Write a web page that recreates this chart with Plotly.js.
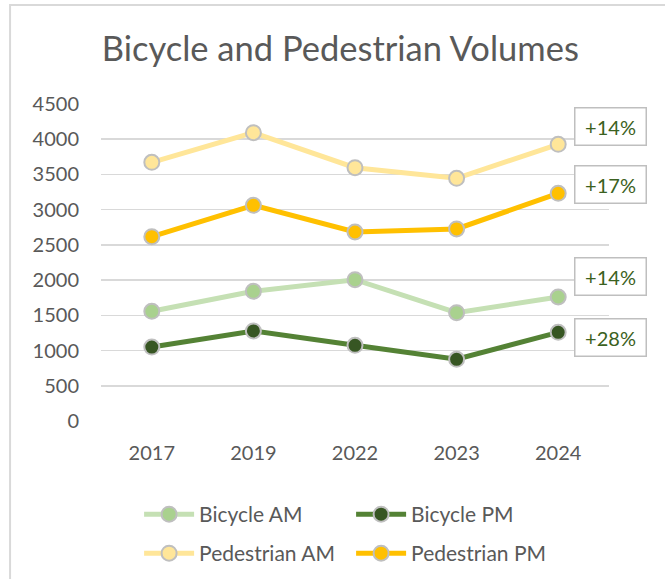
<!DOCTYPE html>
<html><head><meta charset="utf-8">
<script src="https://cdn.plot.ly/plotly-3.0.1.min.js"></script>
<style>html,body{margin:0;padding:0;background:#fff;}#chart{width:665px;height:579px;}</style>
</head><body><div id="chart"></div>
<script>
const years = ["2017","2019","2022","2023","2024"];
const bicycleAM = [1557, 1841, 2006, 1538, 1760];
const bicyclePM = [1050, 1278, 1074, 876, 1259];
const pedestrianAM = [3672, 4093, 3596, 3445, 3928];
const pedestrianPM = [2616, 3062, 2683, 2726, 3232];
const changeLabels = ["+14%", "+17%", "+14%", "+28%"];
const labelY = [4174, 3364, 2058, 1192];

const FONT = "Lato, 'Open Sans', sans-serif";
const TXT = "#595959";
function tr(name, y, line, fill, leg){
  return {x: years, y: y, name: name, type: "scatter", mode: "lines+markers",
    line: {color: line, width: 5},
    marker: {size: 15, color: fill, line: {color: "#bfbfbf", width: 2}},
    legend: leg, hoverinfo: "skip"};
}
const data = [
  tr("Bicycle AM", bicycleAM, "#c5e0b4", "#a9d18e", "legend"),
  tr("Bicycle PM", bicyclePM, "#548235", "#375623", "legend"),
  tr("Pedestrian AM", pedestrianAM, "#ffe699", "#ffe699", "legend2"),
  tr("Pedestrian PM", pedestrianPM, "#ffc000", "#ffc000", "legend2")
];
const annotations = changeLabels.map((t,i)=>({
  xref: "paper", yref: "y", x: 1.0039, y: labelY[i], xanchor: "center", yanchor: "middle",
  text: t, showarrow: false, font: {family: FONT, size: 20, color: "#3b6121"},
  bordercolor: "#bfbfbf", borderwidth: 1.5, bgcolor: "#ffffff", borderpad: 5, width: 60, height: 26
}));
const layout = {
  width: 665, height: 579,
  margin: {l: 101, r: 56, t: 104, b: 158, autoexpand: false},
  paper_bgcolor: "#ffffff", plot_bgcolor: "#ffffff",
  font: {family: FONT, color: TXT, size: 20},
  title: {text: "Bicycle and Pedestrian Volumes", font: {family: FONT, size: 34.5, color: TXT},
    x: 0.471, xref: "paper", y: 0.915, yref: "container", yanchor: "middle"},
  xaxis: {type: "category", range: [-0.5, 4.5], showgrid: false, zeroline: false, showline: false,
    ticks: "", tickfont: {size: 20, color: TXT}, ticklabelstandoff: 18, fixedrange: true},
  yaxis: {range: [0, 4500], dtick: 500, showgrid: true, gridcolor: "#d9d9d9", gridwidth: 1.5,
    zeroline: false, showline: false, ticks: "", tickfont: {size: 20, color: TXT}, ticklabelstandoff: 21, fixedrange: true},
  showlegend: true,
  legend: {orientation: "h", x: 0.075, y: -0.295, xanchor: "left", yanchor: "middle", itemwidth: 50,
    entrywidth: 147, entrywidthmode: "pixels", font: {size: 21, color: TXT}, bgcolor: "rgba(0,0,0,0)"},
  legend2: {orientation: "h", x: 0.075, y: -0.418, xanchor: "left", yanchor: "middle", itemwidth: 50,
    entrywidth: 147, entrywidthmode: "pixels", font: {size: 21, color: TXT}, bgcolor: "rgba(0,0,0,0)"},
  annotations: annotations,
  shapes: [{type: "rect", xref: "paper", yref: "paper", x0: -0.179, x1: 1.2, y0: -0.6, y1: 1.312,
    line: {color: "#d9d9d9", width: 2}, fillcolor: "rgba(0,0,0,0)", layer: "below"}]
};
Plotly.newPlot("chart", data, layout, {displayModeBar: false, staticPlot: true});
</script></body></html>
